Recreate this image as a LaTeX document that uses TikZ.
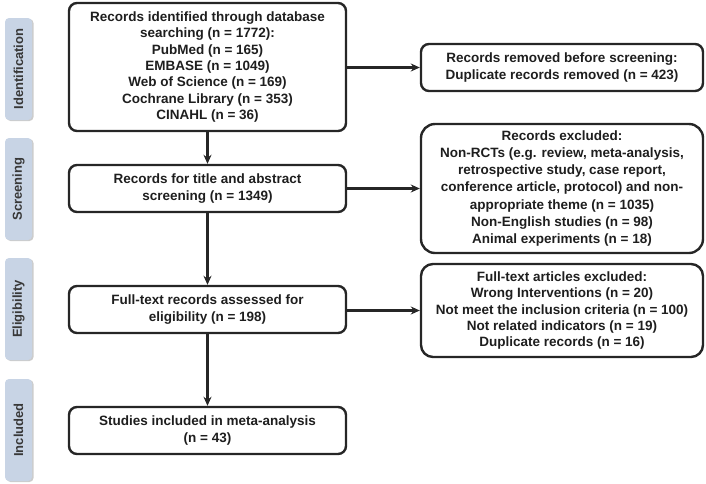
\documentclass[tikz,border=0pt]{standalone}
\usepackage{fontspec}
\setmainfont{Liberation Sans}
\usetikzlibrary{arrows.meta}
\definecolor{txt}{HTML}{1E1E1E}
\definecolor{bord}{HTML}{262626}
\definecolor{sidefill}{HTML}{C8D4E5}
\definecolor{sidetxt}{HTML}{383838}
\begin{document}
\begin{tikzpicture}[x=1pt,y=-1pt,
  box/.style={draw=bord, line width=2.4pt, rounded corners=8pt, align=center,
    font=\bfseries\fontsize{13.5}{16.3}\selectfont, text=txt, inner sep=0pt,
    minimum width=277pt, minimum height=47pt},
  rbox/.style={box, minimum width=282pt},
  side/.style={fill=sidefill, rounded corners=4pt, minimum width=27pt, minimum height=102pt,
    inner sep=0pt},
  sidelab/.style={rotate=90, font=\bfseries\fontsize{13}{15}\selectfont, text=sidetxt},
  arr/.style={draw=bord, line width=2.4pt, -{Stealth[length=9pt,width=8pt]}}
]
\useasboundingbox (0,0) rectangle (706,483);

% side labels
\foreach \n/\y/\t in {s1/69/Identification, s2/189/Screening, s3/309/Eligibility, s4/430/Included}{
  \fill[gray!40, rounded corners=4pt] (6.5,\y-50) rectangle (33.5,\y+52);
  \node[side] (\n) at (18.5,\y) {};
  \node[sidelab] (\n l) at (18.5,\y) {\t};
}

% main boxes
\node[box, minimum height=128pt] (b1) at (207.5,67) {Records identified through database\\
searching (n = 1772):\\PubMed (n = 165)\\EMBASE (n = 1049)\\Web of Science (n = 169)\\
Cochrane Library (n = 353)\\CINAHL (n = 36)};
\node[box] (b2) at (207.5,188.5) {Records for title and abstract\\screening (n = 1349)};
\node[box] (b3) at (207.5,309.5) {Full-text records assessed for\\eligibility (n = 198)};
\node[box] (b4) at (207.5,430.5) {Studies included in meta-analysis\\(n = 43)};

% right boxes
\node[rbox] (r1) at (562,67.5) {Records removed before screening:\\Duplicate records removed (n = 423)};
\node[rbox, minimum height=129pt, rounded corners=14pt,
  font=\bfseries\fontsize{13.5}{17.1}\selectfont] (r2) at (562,188.5) {Records excluded:\\
Non-RCTs (e.g. review, meta-analysis,\\retrospective study, case report,\\
conference article, protocol) and non-\\appropriate theme (n = 1035)\\
Non-English studies (n = 98)\\Animal experiments (n = 18)};
\node[rbox, minimum height=93pt, rounded corners=12pt] (r3) at (562,310.5) {Full-text articles excluded:\\
Wrong Interventions (n = 20)\\Not meet the inclusion criteria (n = 100)\\
Not related indicators (n = 19)\\Duplicate records (n = 16)};

% connectors
\draw[arr] (b1) -- (b2);
\draw[arr] (b2) -- (b3);
\draw[arr] (b3) -- (b4);
\draw[arr] (b1.east |- r1.west) -- (r1.west);
\draw[arr] (b2.east) -- (r2.west);
\draw[arr] (b3.east |- r3.west) -- (r3.west);
\end{tikzpicture}
\end{document}
